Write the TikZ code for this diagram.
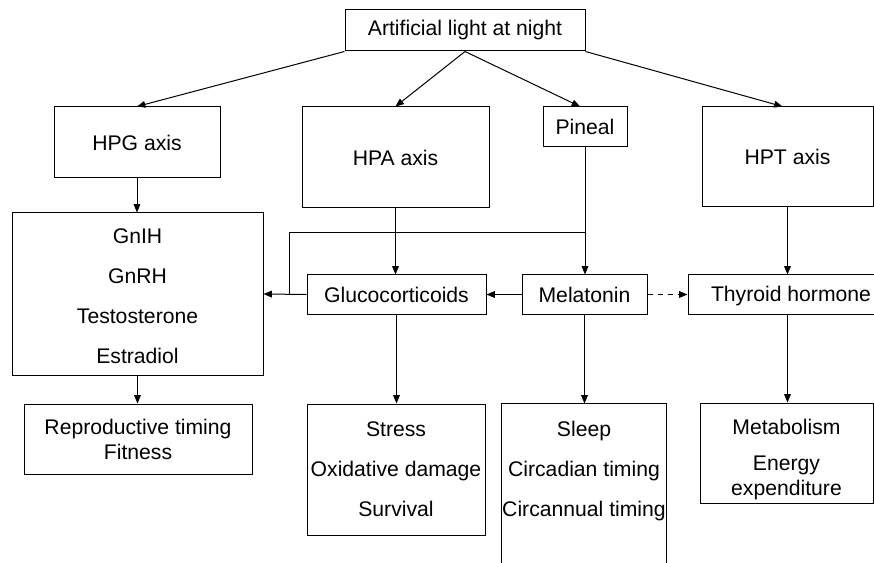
\documentclass[tikz,border=0pt]{standalone}
\usepackage{fontspec}
\setmainfont{Liberation Sans}
\usetikzlibrary{arrows.meta}
\tikzset{
    box/.style 2 args={draw, minimum width=#1*0.6pt, minimum height=#2*0.6pt, inner sep=0pt, align=center},
    arr/.style={-{Triangle[length=5pt, width=4pt]}},
}
\begin{document}
\begin{tikzpicture}[x=0.6pt, y=-0.6pt, line width=0.6pt, font=\fontsize{12.7}{15}\selectfont]
    \useasboundingbox (0,0) rectangle (874,563);

    \node[box={240}{41}] (light) at (465, 30.5) {Artificial light at night};
    \node[box={166}{71}] (hpg) at (137, 142.5) {HPG axis};
    \node[box={187}{101}] (hpa) at (395.5, 157.5) {HPA axis};
    \node[box={84}{40}] (pineal) at (585, 127) {Pineal};
    \node[box={171}{100}] (hpt) at (787.5, 157) {HPT axis};

    \node[box={251}{162}] (gnih) at (137.5, 294) {\rule{0pt}{12pt}GnIH\\[9pt] GnRH\\[9pt] Testosterone\\[9pt] Estradiol};
    \node[box={179}{39}] (gluco) at (396.5, 294.5) {Glucocorticoids};
    \node[box={125}{39}] (mela) at (584.5, 294.5) {Melatonin};
    \node[box={206}{39}] (thyro) at (791, 294.5) {\rule{0pt}{11pt}Thyroid hormone};

    \node[box={228}{70}] (repro) at (138, 439) {Reproductive timing\\ Fitness};
    \node[box={178}{131}] (stress) at (396, 469.5) {Stress\\[9pt] Oxidative damage\\[9pt] Survival};
    \node[box={162}{134}, draw=none] (sleep) at (584, 471) {Sleep\\[9pt] Circadian timing\\[9pt] Circannual timing};
    \node[box={173}{100}] (metab) at (786.5, 453) {\rule{0pt}{17pt}Metabolism\\[6.6pt] Energy\\ expenditure};
    \draw[] ([yshift=-30pt]sleep.south west) -- (sleep.north west) -- (sleep.north east) -- ([yshift=-30pt]sleep.south east);

    \draw[arr] (light.south west) -- (hpg.north);
    \draw[arr] (light.south) -- (hpa.north);
    \draw[arr] (light.south) -- ([xshift=-3pt]pineal.north);
    \draw[arr] (light.south east) -- ([xshift=-3pt]hpt.north);

    \draw[arr] (hpg.south) -- (hpg.south |- gnih.north);
    \draw[arr] (hpa.south) -- (hpa.south |- gluco.north);
    \draw[arr] (pineal.south) -- (pineal.south |- mela.north);
    \draw[arr] (hpt.south) -- (hpt.south |- thyro.north);

    \coordinate (split) at (585, 233);
    \coordinate (knee) at (289, 233);
    \draw[] (split) -- (knee) -- (knee |- gnih.east);
    \draw[arr] (gluco.west) -- (gnih.east);
    \draw[arr] (mela.west) -- (gluco.east);
    \draw[arr, dashed] (mela.east) -- (thyro.west);

    \draw[arr] (gnih.south) -- (gnih.south |- repro.north);
    \draw[arr] (gluco.south) -- (gluco.south |- stress.north);
    \draw[arr] (mela.south) -- (mela.south |- sleep.north);
    \draw[arr] (hpt.south |- thyro.south) -- (hpt.south |- metab.north);
\end{tikzpicture}
\end{document}
